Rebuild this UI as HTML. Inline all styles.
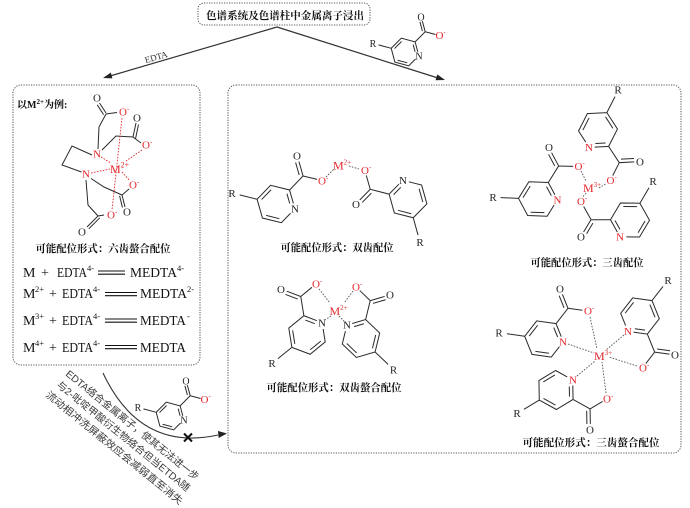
<!DOCTYPE html>
<html><head><meta charset="utf-8"><style>
html,body{margin:0;padding:0;background:#fff;}
svg{display:block}
.l{font-family:"Liberation Serif",serif;font-size:11px;fill:#222;text-anchor:middle}
.s{font-family:"Liberation Serif",serif;font-size:10px;fill:#222;text-anchor:middle}
.o{font-family:"Liberation Serif",serif;font-size:11px;fill:#e3262b}
.rd{fill:#e3262b}
.m{font-family:"Liberation Serif",serif;font-size:12px;fill:#e3262b}
.cap{font-family:"Liberation Serif","Noto Serif CJK SC","Noto Sans CJK SC",serif;font-size:10.5px;font-weight:bold;fill:#111;text-anchor:middle}
.eq{font-family:"Liberation Serif",serif;font-size:14px;fill:#111}
.sp{font-family:"Liberation Serif",serif;font-size:8.5px;fill:#111}
.rot{font-family:"Liberation Sans","Noto Sans CJK SC",sans-serif;font-size:10px;fill:#3a3a3a}
</style></head><body>
<svg width="690" height="508" viewBox="0 0 690 508" xmlns="http://www.w3.org/2000/svg">
<defs>
<g id="pyS"><path vector-effect="non-scaling-stroke" fill="none" stroke="#2a2a2a" stroke-width="1" d="M11.26,2.8L11.26,-6.5L0,-13L-11.26,-6.5L-11.26,6.5L0,13L7.6,8.6M8.9,-4.6L8.9,2.2M-0.54,-10.04L-8.42,-5.49M-8.42,5.49L-0.54,10.04M-11.26,-6.5L-21.6,-12.5M11.26,-6.5L22.5,-13L22.5,-23M20.2,-14.3L20.2,-23M22.5,-13L30.9,-8.2"/></g>
<g id="pyA"><path vector-effect="non-scaling-stroke" fill="none" stroke="#2a2a2a" stroke-width="1" d="M11.26,2.8L11.26,-6.5L0,-13L-11.26,-6.5L-11.26,6.5L0,13L7.6,8.6M8.9,-4.6L8.9,2.2M-0.54,-10.04L-8.42,-5.49M-8.42,5.49L-0.54,10.04M-11.26,-6.5L-21.6,-12.5M11.26,-6.5L22.5,-13L22.5,-23M22.5,-13L30.9,-8.2M22.6,-10.3L29.7,-6.2"/></g>
</defs>

<!-- boxes -->
<g fill="none" stroke="#555" stroke-width="1" stroke-dasharray="1.2 1.3">
<rect x="198" y="3" width="172" height="22" rx="6"/>
<rect x="13" y="85" width="187" height="280" rx="8"/>
<rect x="228" y="85" width="453" height="368" rx="8"/>
</g>
<text class="cap" x="285" y="19" textLength="158" lengthAdjust="spacingAndGlyphs">色谱系统及色谱柱中金属离子浸出</text>

<!-- main arrows -->
<g stroke="#333" stroke-width="1.2" fill="none">
<path d="M277,27 L110,76"/>
<path d="M277,27 L438,78"/>
</g>
<polygon points="103,78 110.8,72.6 112.4,78.4" fill="#222"/>
<polygon points="445,80 435.5,80.2 437.3,74.4" fill="#222"/>
<text x="157" y="60" transform="rotate(-16 157 60)" font-family="Liberation Serif,serif" font-size="9" fill="#333" text-anchor="middle">EDTA</text>

<!-- top standalone picolinate -->
<use href="#pyS" transform="translate(405,52) rotate(-15) scale(1.1)"/>
<text class="s" x="419" y="59.3">N</text>
<text class="s" x="373" y="47">R</text>
<text class="s" x="421" y="20.5">O</text>
<text class="o" x="435.5" y="39" font-size="10">O<tspan font-size="7" dy="-4.5">-</tspan></text>

<!-- LEFT BOX: EDTA -->
<text x="17" y="108" font-family="Liberation Serif,'Noto Serif CJK SC',serif" font-size="10" font-weight="bold" fill="#111">以M<tspan font-size="7" dy="-4">2+</tspan><tspan dy="4">为例:</tspan></text>
<path fill="none" stroke="#2a2a2a" stroke-width="1" d="M106,113 L99.5,103 M103.6,114.6 L97.2,104.8 M106,114 L117,112.5 M106,114 L99,127 L98,149 M102,150 L116,136 L133,137 M133,137 L136,123 M135.6,138.4 L138.5,124.5 M133,137 L141,143 M92,155 L72,146 L62,165 L81.5,172 M91,178.5 L104,187 L122,195 M122,195 L129,189 M122,195 L125,207 M119.6,195.8 L122.4,207.5 M86,180 L88,205 L98,216 M98,216 L104,215 M98,216 L87,227 M99.8,217.8 L88.8,228.8"/>
<g stroke="#e3262b" stroke-width="0.9" stroke-dasharray="1.6 1.4" fill="none">
<path d="M122,118 L112,210"/>
<path d="M142,150 L126,161"/>
<path d="M101,157 L111,163"/>
<path d="M91,173 L110,169"/>
<path d="M122,172 L130,181"/>
</g>
<text class="l" x="97" y="101.7">O</text>
<text class="o" x="119" y="115.7">O<tspan font-size="7" dy="-4.5">-</tspan></text>
<text class="l rd" x="97" y="157.7">N</text>
<text class="l" x="137" y="121.7">O</text>
<text class="o" x="142" y="148.7">O<tspan font-size="7" dy="-4.5">-</tspan></text>
<text class="l rd" x="86" y="177.7">N</text>
<text class="o" x="129" y="188.7">O<tspan font-size="7" dy="-4.5">-</tspan></text>
<text class="l" x="127" y="215.7">O</text>
<text class="o" x="107" y="218.7">O<tspan font-size="7" dy="-4.5">-</tspan></text>
<text class="l" x="82" y="235.7">O</text>
<text class="m" x="110" y="173" font-size="13">M<tspan font-size="8" dy="-5.5">2+</tspan></text>
<text class="cap" x="103" y="252" textLength="135" lengthAdjust="spacingAndGlyphs">可能配位形式：六齿螯合配位</text>

<!-- equations -->
<g>
<text class="eq" x="23" y="277">M</text>
<text class="eq" x="41" y="277">+</text>
<text class="eq" x="57" y="277" textLength="30" lengthAdjust="spacingAndGlyphs">EDTA</text>
<text class="sp" x="87" y="271">4-</text>
<text class="eq" x="130" y="277" textLength="47" lengthAdjust="spacingAndGlyphs">MEDTA</text>
<text class="sp" x="177" y="271">4-</text>

<text class="eq" x="23" y="298">M</text>
<text class="sp" x="35" y="292">2+</text>
<text class="eq" x="49" y="298">+</text>
<text class="eq" x="62" y="298" textLength="31" lengthAdjust="spacingAndGlyphs">EDTA</text>
<text class="sp" x="93" y="292">4-</text>
<text class="eq" x="140" y="298" textLength="47" lengthAdjust="spacingAndGlyphs">MEDTA</text>
<text class="sp" x="187" y="292">2-</text>

<text class="eq" x="23" y="325">M</text>
<text class="sp" x="35" y="319">3+</text>
<text class="eq" x="49" y="325">+</text>
<text class="eq" x="62" y="325" textLength="31" lengthAdjust="spacingAndGlyphs">EDTA</text>
<text class="sp" x="93" y="319">4-</text>
<text class="eq" x="140" y="325" textLength="46" lengthAdjust="spacingAndGlyphs">MEDTA</text>
<text class="sp" x="187" y="319">-</text>

<text class="eq" x="23" y="352">M</text>
<text class="sp" x="35" y="346">4+</text>
<text class="eq" x="49" y="352">+</text>
<text class="eq" x="62" y="352" textLength="31" lengthAdjust="spacingAndGlyphs">EDTA</text>
<text class="sp" x="93" y="346">4-</text>
<text class="eq" x="140" y="352" textLength="46" lengthAdjust="spacingAndGlyphs">MEDTA</text>
</g>
<g stroke="#111" stroke-width="1.1">
<path d="M98,271 L125,271 M98,274.2 L125,274.2"/>
<path d="M105,292.5 L137,292.5 M105,295.7 L137,295.7"/>
<path d="M105,319 L137,319 M105,322.2 L137,322.2"/>
<path d="M105,345.5 L137,345.5 M105,348.7 L137,348.7"/>
</g>

<!-- bottom-left curved arrow -->
<path d="M103,373 Q140,452 218,435" fill="none" stroke="#333" stroke-width="1.1"/>
<polygon points="227,433.5 218,431 218.6,438" fill="#222"/>
<path d="M184,433.5 L192,441.5 M192,433.5 L184,441.5" stroke="#111" stroke-width="2"/>
<use href="#pyS" transform="translate(170,416) rotate(-15) scale(1.1)"/>
<text class="s" x="184" y="423.5">N</text>
<text class="s" x="138" y="411">R</text>
<text class="s" x="186" y="384.5">O</text>
<text class="o" x="200.5" y="403" font-size="10">O<tspan font-size="7" dy="-4.5">-</tspan></text>

<text class="rot" transform="translate(65,375) rotate(39)" textLength="168" lengthAdjust="spacingAndGlyphs">EDTA络合金属离子，使其无法进一步</text>
<text class="rot" transform="translate(56,386) rotate(39)" textLength="168" lengthAdjust="spacingAndGlyphs">与2-吡啶甲酸衍生物络合但当ETDA随</text>
<text class="rot" transform="translate(45,396) rotate(39)" textLength="173" lengthAdjust="spacingAndGlyphs">流动相冲洗屏蔽效应会减弱直至消失</text>

<!-- RIGHT BOX: TL -->
<use href="#pyS" transform="translate(276,204) rotate(-16) scale(1.5)"/>
<use href="#pyS" transform="translate(408,199) rotate(224.4) scale(1.5)"/>
<text class="l" x="232" y="197">R</text>
<text class="l" x="295" y="212.4">N</text>
<text class="l" x="297" y="159.5">O</text>
<text class="o" x="318" y="184.3">O<tspan font-size="7" dy="-4.5">-</tspan></text>
<text class="l" x="420" y="246">R</text>
<text class="l" x="403" y="184">N</text>
<text class="l" x="356" y="208">O</text>
<text class="o" x="361" y="174">O<tspan font-size="7" dy="-4.5">-</tspan></text>
<text class="m" x="333" y="169.5">M<tspan font-size="7" dy="-5">2+</tspan></text>
<g stroke="#555" stroke-width="0.9" stroke-dasharray="1.6 1.4" fill="none">
<path d="M326,177 L334,169"/>
<path d="M349,166 L359,169"/>
</g>
<text class="cap" x="337" y="251" textLength="113" lengthAdjust="spacingAndGlyphs">可能配位形式：双齿配位</text>

<!-- RIGHT BOX: TR -->
<use href="#pyS" transform="translate(598,130) rotate(87) scale(1.5)"/>
<use href="#pyS" transform="translate(538,199) rotate(-28) scale(1.5)"/>
<use href="#pyA" transform="translate(630,220) rotate(150.6) scale(1.5,-1.5)"/>
<text class="l rd" x="589" y="151">N</text>
<text class="l" x="618" y="93.6">R</text>
<text class="l" x="640" y="165.6">O</text>
<text class="o" x="606.5" y="184">O<tspan font-size="7" dy="-4.5">-</tspan></text>
<text class="l rd" x="557.5" y="203.5">N</text>
<text class="l" x="493" y="201">R</text>
<text class="l" x="549" y="151">O</text>
<text class="o" x="574.5" y="170.2">O<tspan font-size="7" dy="-4.5">-</tspan></text>
<text class="l rd" x="620" y="240.5">N</text>
<text class="l" x="653" y="185">R</text>
<text class="o" x="577" y="205">O<tspan font-size="7" dy="-4.5">-</tspan></text>
<text class="l" x="581" y="240.3">O</text>
<text class="m" x="583" y="192">M<tspan font-size="7" dy="-5">3+</tspan></text>
<g stroke="#555" stroke-width="0.9" stroke-dasharray="1.6 1.4" fill="none">
<path d="M599,188 L605.5,184"/>
<path d="M581,171 L586,181"/>
<path d="M583,196.5 L586,193"/>
</g>
<text class="cap" x="587" y="266" textLength="113" lengthAdjust="spacingAndGlyphs">可能配位形式：三齿配位</text>

<!-- RIGHT BOX: BL -->
<use href="#pyS" transform="translate(307,335) rotate(-69.2) scale(1.5)"/>
<use href="#pyS" transform="translate(361,338.5) rotate(253.7) scale(1.5,-1.5)"/>
<text class="l" x="322" y="326.5">N</text>
<text class="l" x="272" y="367">R</text>
<text class="l" x="281" y="292.8">O</text>
<text class="o" x="312" y="287.6">O<tspan font-size="7" dy="-4.5">-</tspan></text>
<text class="l" x="347" y="328.7">N</text>
<text class="l" x="393.5" y="373.3">R</text>
<text class="l" x="390" y="298.5">O</text>
<text class="o" x="352" y="290.5">O<tspan font-size="7" dy="-4.5">-</tspan></text>
<text class="m" x="329.5" y="315">M<tspan font-size="7" dy="-5">2+</tspan></text>
<g stroke="#555" stroke-width="0.9" stroke-dasharray="1.6 1.4" fill="none">
<path d="M319,289 L330,303"/>
<path d="M339,316 L344,321"/>
<path d="M353,291 L344,303"/>
<path d="M331,316 L325,320"/>
</g>
<text class="cap" x="334" y="391" textLength="135" lengthAdjust="spacingAndGlyphs">可能配位形式：双齿螯合配位</text>

<!-- RIGHT BOX: BR -->
<use href="#pyS" transform="translate(544,339) rotate(-22) scale(1.5)"/>
<use href="#pyS" transform="translate(640,316) rotate(97.9) scale(1.5)"/>
<use href="#pyS" transform="translate(556,390) rotate(-1) scale(1.5,-1.5)"/>
<text class="l rd" x="563" y="345.5">N</text>
<text class="l" x="499" y="336.5">R</text>
<text class="l" x="560" y="292.5">O</text>
<text class="o" x="584" y="314.6">O<tspan font-size="7" dy="-4.5">-</tspan></text>
<text class="l rd" x="628" y="335">N</text>
<text class="l" x="668" y="284">R</text>
<text class="l" x="675" y="358.7">O</text>
<text class="o" x="639" y="371.5">O<tspan font-size="7" dy="-4.5">-</tspan></text>
<text class="l rd" x="573" y="383.7">N</text>
<text class="l" x="517" y="417">R</text>
<text class="l" x="590" y="433.6">O</text>
<text class="o" x="603" y="402.5">O<tspan font-size="7" dy="-4.5">-</tspan></text>
<text class="m" x="594" y="360">M<tspan font-size="7" dy="-5">3+</tspan></text>
<g stroke="#555" stroke-width="0.9" stroke-dasharray="1.6 1.4" fill="none">
<path d="M590,317 L597,349"/>
<path d="M568,344 L594,353"/>
<path d="M624,335 L606,350"/>
<path d="M637,366 L609,357"/>
<path d="M577,376 L595,361"/>
<path d="M606,393 L602,362"/>
</g>
<text class="cap" x="591" y="446" textLength="137" lengthAdjust="spacingAndGlyphs">可能配位形式：三齿螯合配位</text>
</svg>
</body></html>
